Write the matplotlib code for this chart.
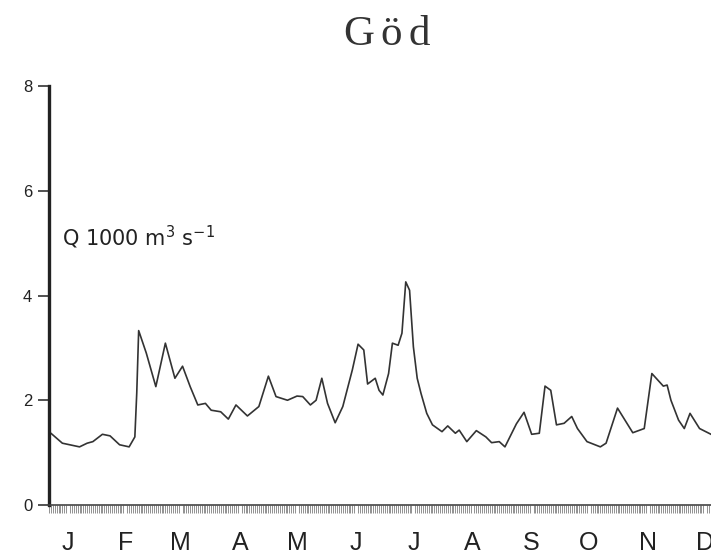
import matplotlib
matplotlib.use("Agg")
import matplotlib.pyplot as plt
import numpy as np

# Day of year and discharge (1000 m3/s)
days = [5, 6, 12, 21, 25, 28, 33, 37, 42, 47, 50, 51, 52, 56, 61, 66, 71, 75, 79, 83,
        87, 90, 95, 99, 103, 109, 115, 120, 124, 130, 135, 138, 142, 145, 148, 151,
        155, 159, 164, 167, 170, 172, 176, 178, 180, 183, 185, 188, 190, 192, 194,
        196, 198, 200, 203, 206, 211, 214, 218, 220, 224, 229, 234, 237, 241, 244,
        250, 254, 258, 262, 265, 268, 271, 275, 279, 282, 287, 294, 297, 303, 311,
        317, 321, 327, 329, 331, 335, 338, 341, 346, 352]
flow = [1.35, 1.37, 1.18, 1.11, 1.18, 1.21, 1.35, 1.32, 1.15, 1.11, 1.30, 2.14, 3.33,
        2.90, 2.26, 3.09, 2.42, 2.65, 2.26, 1.91, 1.94, 1.81, 1.78, 1.64, 1.91, 1.70,
        1.88, 2.46, 2.07, 2.00, 2.08, 2.07, 1.91, 2.00, 2.42, 1.94, 1.57, 1.88, 2.58,
        3.07, 2.96, 2.31, 2.42, 2.19, 2.10, 2.51, 3.09, 3.05, 3.28, 4.26, 4.10, 3.02,
        2.42, 2.13, 1.75, 1.53, 1.40, 1.51, 1.37, 1.43, 1.21, 1.42, 1.30, 1.19, 1.21,
        1.11, 1.55, 1.77, 1.35, 1.37, 2.27, 2.19, 1.53, 1.56, 1.69, 1.46, 1.21, 1.11,
        1.18, 1.85, 1.38, 1.46, 2.51, 2.27, 2.29, 2.00, 1.62, 1.46, 1.75, 1.46, 1.35]

months = ["J", "F", "M", "A", "M", "J", "J", "A", "S", "O", "N", "D"]
month_pos = [15, 45, 74, 105, 135, 166, 196, 227, 258, 288, 319, 349]
yticks = [0, 2, 4, 6, 8]
title_letters = ["G", "ö", "d"]

fig = plt.figure(figsize=(7.11, 5.56), dpi=100)
ax = fig.add_axes([49/711, 51/556, 662/711, 419/556])

ax.plot(days, flow, color="#333333", lw=1.2)

ax.set_xlim(5, 352)
ax.set_ylim(0, 8)
for s in ["top", "right"]:
    ax.spines[s].set_visible(False)
ax.spines["left"].set_linewidth(2.4)
ax.spines["left"].set_color("#222222")
ax.spines["bottom"].set_linewidth(1.2)
ax.spines["bottom"].set_color("#444444")

ax.set_yticks(yticks)
ax.set_yticklabels([str(v) for v in yticks], fontsize=12, family="Liberation Sans",
                   color="#222222")
ax.tick_params(axis="y", direction="out", length=8, width=1.2, color="#333333", pad=4)

ax.set_xticks(month_pos)
ax.set_xticklabels(months, fontsize=18, family="Liberation Sans", color="#222222")
ax.tick_params(axis="x", which="major", length=0, pad=19)
ax.set_xticks(np.arange(5, 353, 1), minor=True)
ax.tick_params(axis="x", which="minor", direction="out", length=6, width=0.5,
               color="#666666")

ax.text(11.8, 4.96, r"Q 1000 m$^3$ s$^{-1}$", fontsize=15, family="DejaVu Sans",
        color="#222222", va="baseline")

for letter, xc in zip(title_letters, [359, 391.5, 419]):
    fig.text(xc/711, 1 - 45/556, letter, ha="center", va="baseline", fontsize=31,
             family="Liberation Serif", color="#333333")

fig.savefig("out.png", dpi=100)
